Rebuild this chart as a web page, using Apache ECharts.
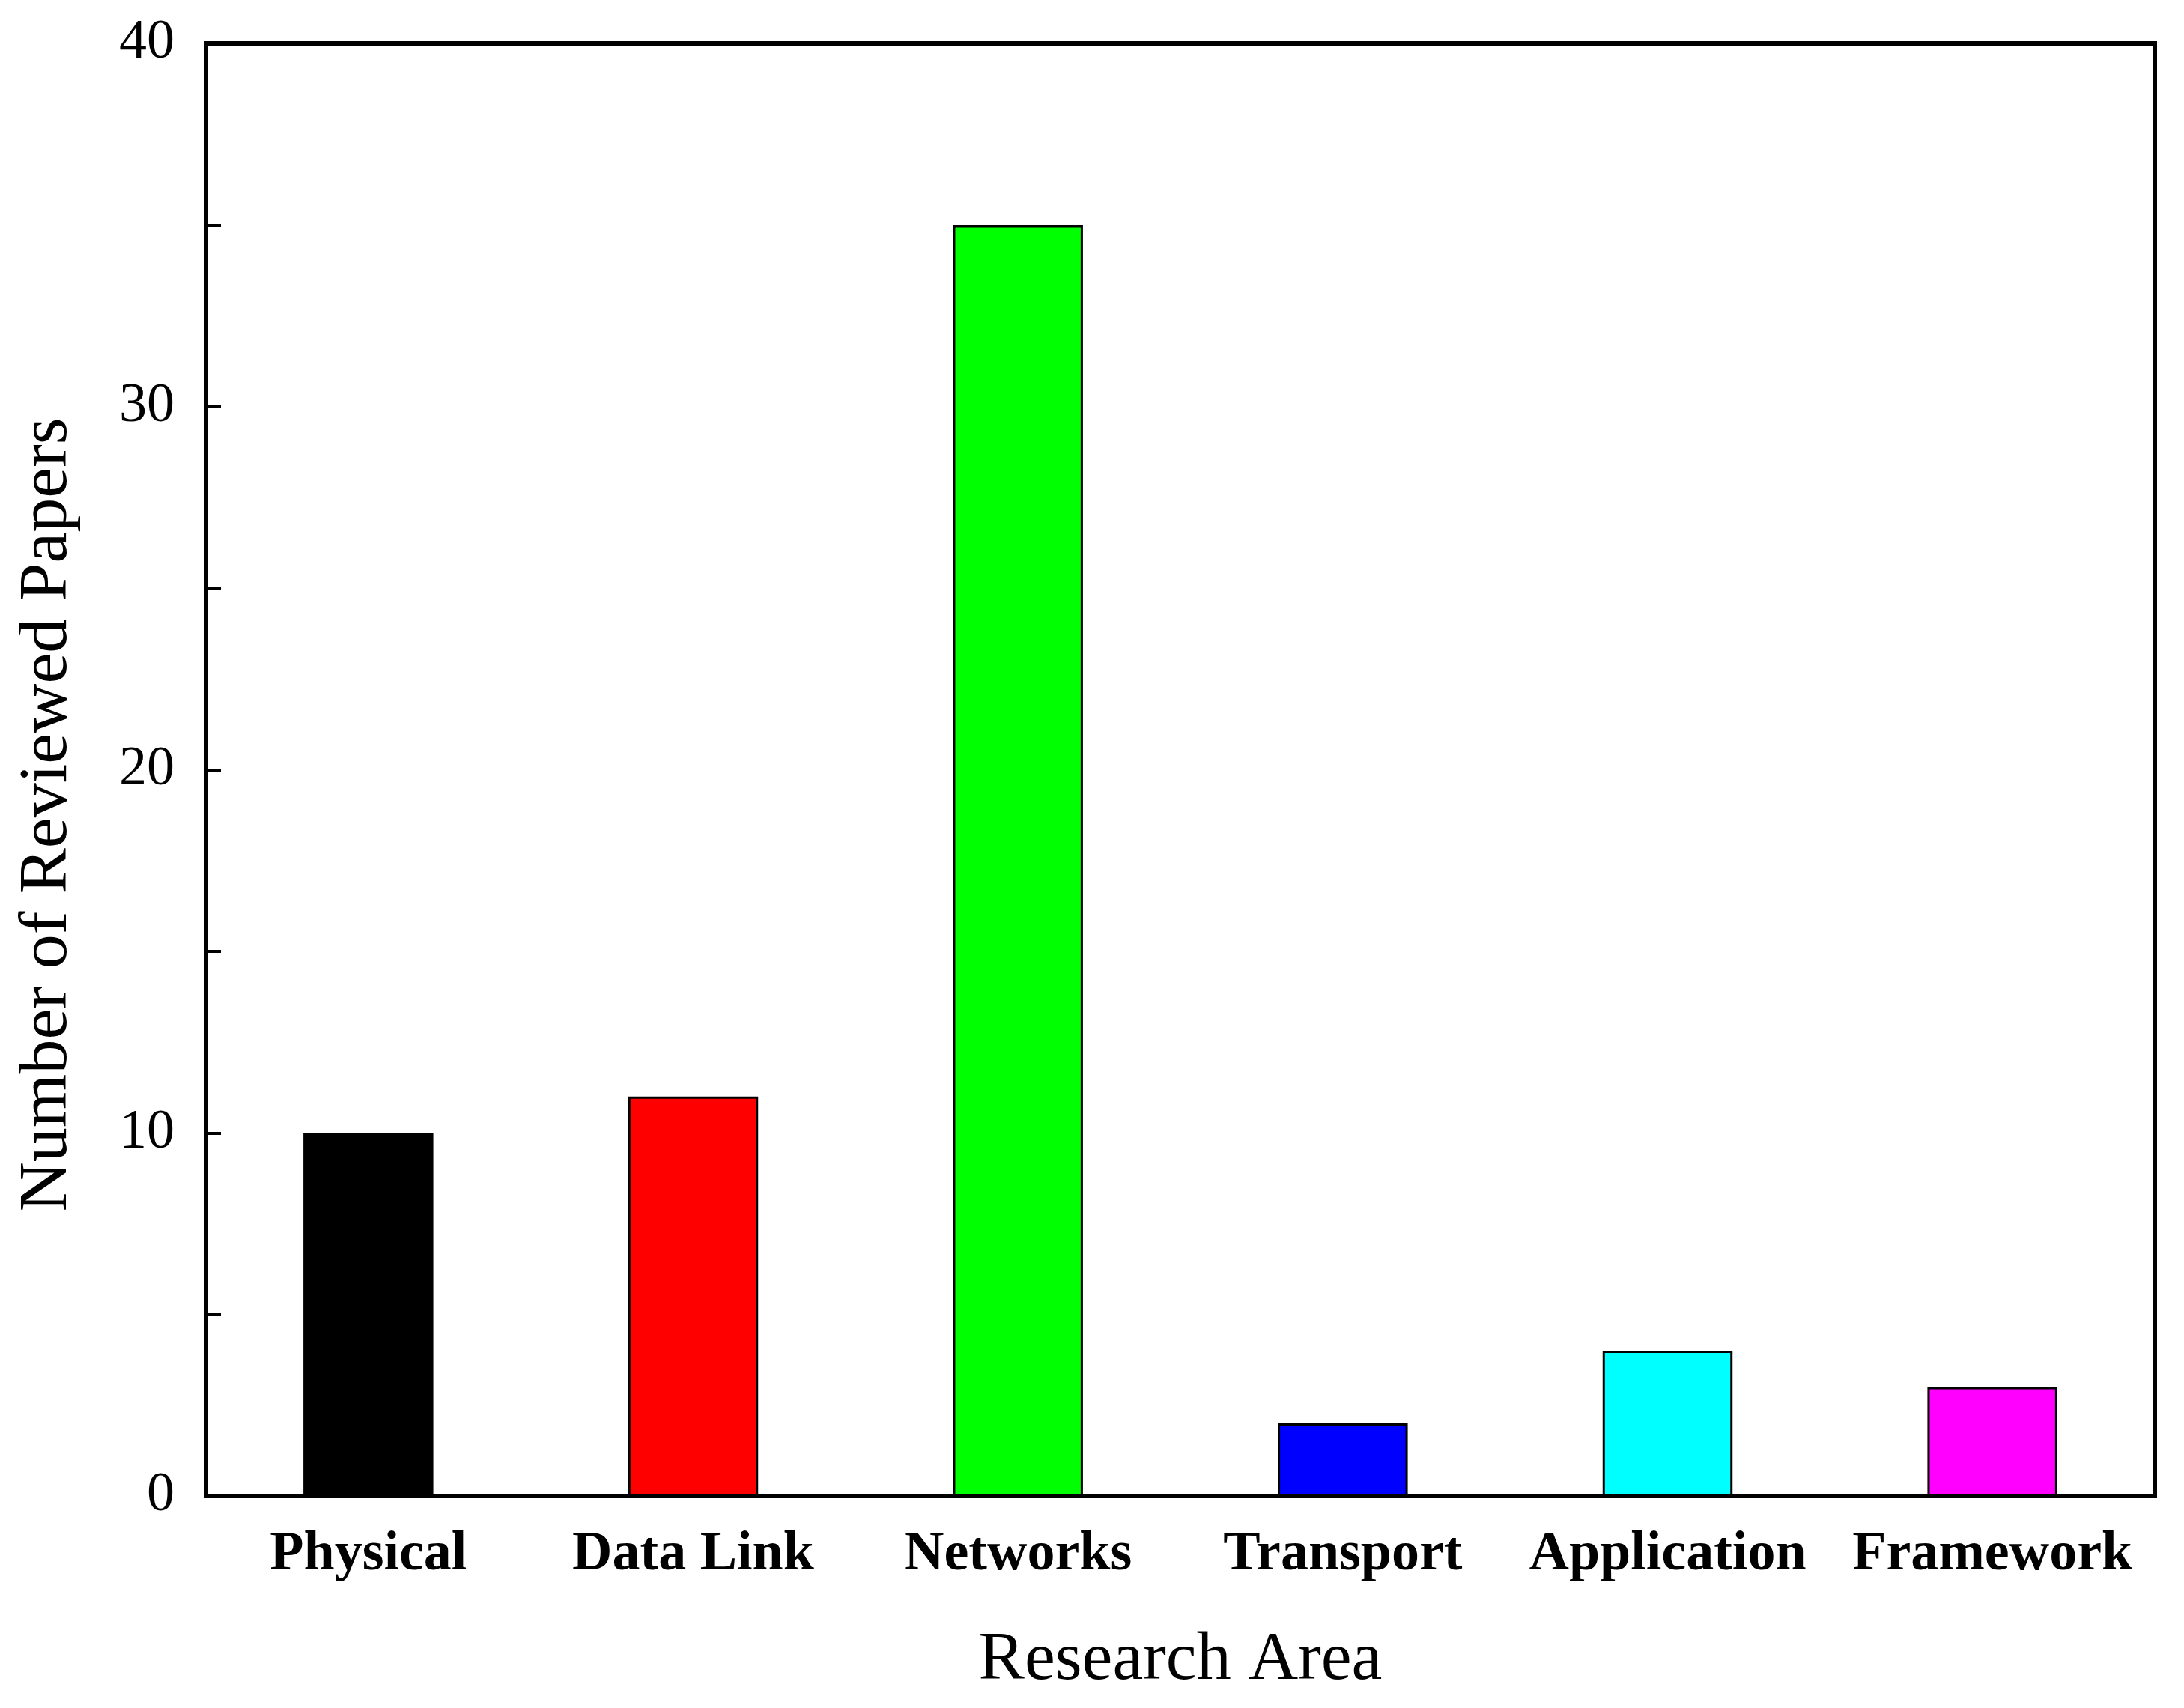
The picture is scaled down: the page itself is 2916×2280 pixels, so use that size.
<!DOCTYPE html>
<html>
<head>
<meta charset="utf-8">
<script src="https://cdn.jsdelivr.net/npm/echarts@6/dist/echarts.min.js"></script>
<style>
  html, body { margin: 0; padding: 0; background: #fff; }
  #chart { width: 2916px; height: 2280px; }
</style>
</head>
<body>
<div id="chart"></div>
<script>
const categories = ['Physical', 'Data Link', 'Networks', 'Transport', 'Application', 'Framework'];
const paperCounts = [10, 11, 35, 2, 4, 3];
const barColors = ['#000000', '#ff0000', '#00ff00', '#0000ff', '#00ffff', '#ff00ff'];
const yMin = 0;
const yMax = 40;
const yStep = 10;

const font = '"Liberation Serif", "Times New Roman", serif';

const myChart = echarts.init(document.getElementById('chart'));
const option = {
  backgroundColor: '#fff',
  animation: false,
  grid: {
    left: 275,
    right: 39,
    top: 58,
    bottom: 283,
    show: true,
    borderColor: '#000',
    borderWidth: 6,
    backgroundColor: 'transparent'
  },
  xAxis: {
    type: 'category',
    data: categories,
    name: 'Research Area',
    nameLocation: 'middle',
    nameGap: 174,
    nameTextStyle: { fontFamily: font, fontSize: 92, color: '#000' },
    axisLine: { show: true, lineStyle: { color: '#000', width: 6 } },
    axisTick: { show: false },
    axisLabel: {
      fontFamily: font,
      fontWeight: 'bold',
      fontSize: 74,
      color: '#000',
      margin: 42,
      interval: 0
    },
    splitLine: { show: false }
  },
  yAxis: {
    type: 'value',
    min: yMin,
    max: yMax,
    interval: yStep,
    name: 'Number of Reviewed Papers',
    nameLocation: 'middle',
    nameGap: 165,
    nameTextStyle: {
      fontFamily: font,
      fontSize: 92,
      color: '#000',
      // nudge the rotated title down the axis, like the original
      padding: [0, 120, 0, 0]
    },
    axisLine: { show: true, lineStyle: { color: '#000', width: 6 } },
    axisTick: { show: true, inside: true, length: 20, lineStyle: { color: '#000', width: 4 } },
    minorTick: { show: true, splitNumber: 2, length: 20, lineStyle: { color: '#000', width: 4 } },
    axisLabel: { fontFamily: font, fontSize: 74, color: '#000', margin: 42 },
    splitLine: { show: false }
  },
  series: [
    {
      type: 'bar',
      barWidth: '40%',
      data: paperCounts.map((v, i) => ({
        value: v,
        itemStyle: { color: barColors[i] }
      })),
      itemStyle: { borderColor: '#000', borderWidth: 3 }
    }
  ]
};
myChart.setOption(option);
</script>
</body>
</html>
